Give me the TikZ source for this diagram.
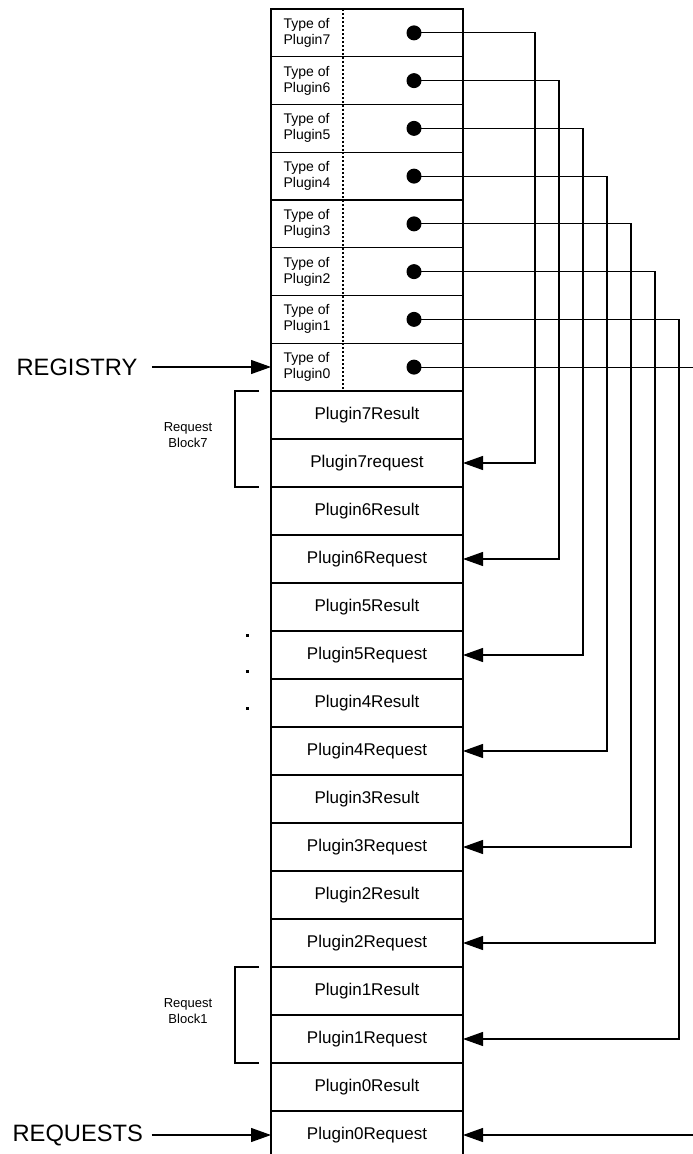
\documentclass[tikz,border=0pt]{standalone}
\usepackage{fontspec}
\setmainfont{Liberation Sans}
\usetikzlibrary{arrows.meta}

\begin{document}
\begin{tikzpicture}[x = 1pt, y = -1pt, line width = 1.2pt,
	> = {Triangle[length = 20pt, width = 14pt]},
	regbox/.style = {draw, minimum width = 192pt, minimum height = 47.75pt, inner sep = 0, outer sep = 0},
	rowbox/.style = {draw, minimum width = 192pt, minimum height = 48pt, inner sep = 0, outer sep = 0, font = \fontsize{17}{20}\selectfont},
	typetext/.style = {anchor = west, align = left, inner sep = 0, font = \fontsize{14}{16}\selectfont},
	blocktext/.style = {align = center, inner sep = 0, font = \fontsize{13}{16}\selectfont},
	bigtext/.style = {anchor = west, inner sep = 0, font = \fontsize{23.7}{28}\selectfont},
	plugdot/.style = {circle, fill, minimum size = 15pt, inner sep = 0}]

	% Page frame
	
	\useasboundingbox (0, 0) rectangle (693, 1154);
	\clip (0, 0) rectangle (693, 1154);
	
	% Registry of plugin types
	
	\foreach \r in {7, ..., 0} {
		\node [regbox] (reg\r) at (367, {9 + (7 - \r) * 47.75 + 23.875}) {};
		\node [typetext] (type\r) at ([xshift = 12pt] reg\r.west) {Type of\\Plugin\r};
		\draw [line width = 1.2pt, dash pattern = on 2pt off 2pt] ([xshift = 72pt] reg\r.north west) -- ([xshift = 72pt] reg\r.south west);
		\node [plugdot] (plug\r) at ([xshift = 47pt] reg\r.center) {};
	}
	
	% Result and request rows
	
	\foreach \r/\word in {7/request, 6/Request, 5/Request, 4/Request, 3/Request, 2/Request, 1/Request, 0/Request} {
		\node [rowbox] (res\r) at (367, {391 + (7 - \r) * 96 + 24}) {Plugin\r Result};
		\node [rowbox] (req\r) at (367, {391 + (7 - \r) * 96 + 72}) {Plugin\r\word};
	}
	
	% Links from registry to requests
	
	\foreach \r in {7, ..., 0} {
		\coordinate (col\r) at ({535 + (7 - \r) * 24}, 0);
		\draw [->] (plug\r.center) -| (col\r |- req\r.east) -- (req\r.east);
	}
	
	% Entry labels
	
	\node [bigtext] (registry) at (16, 367) {REGISTRY};
	\node [bigtext] (requests) at (12, 1135) {REQUESTS};
	\draw [->, shorten <= 14pt] (registry.east) -- (registry.east -| reg0.west);
	\draw [->, shorten <= 8pt] (requests.east) -- (requests.east -| req0.west);
	
	% Request blocks
	
	\foreach \b in {7, 1} {
		\draw ([xshift = -12pt] res\b.north west) -- ++(-24, 0) |- ([xshift = -12pt] req\b.south west);
		\node [blocktext] (block\b) at ([xshift = -83pt, yshift = 4pt] res\b.south west) {Request\\Block\b};
	}
	
	% Ellipsis
	
	\foreach \y in {635, 671, 708}
		\fill (245.5, {\y - 1.5}) rectangle ++(3, 3);

\end{tikzpicture}
\end{document}
